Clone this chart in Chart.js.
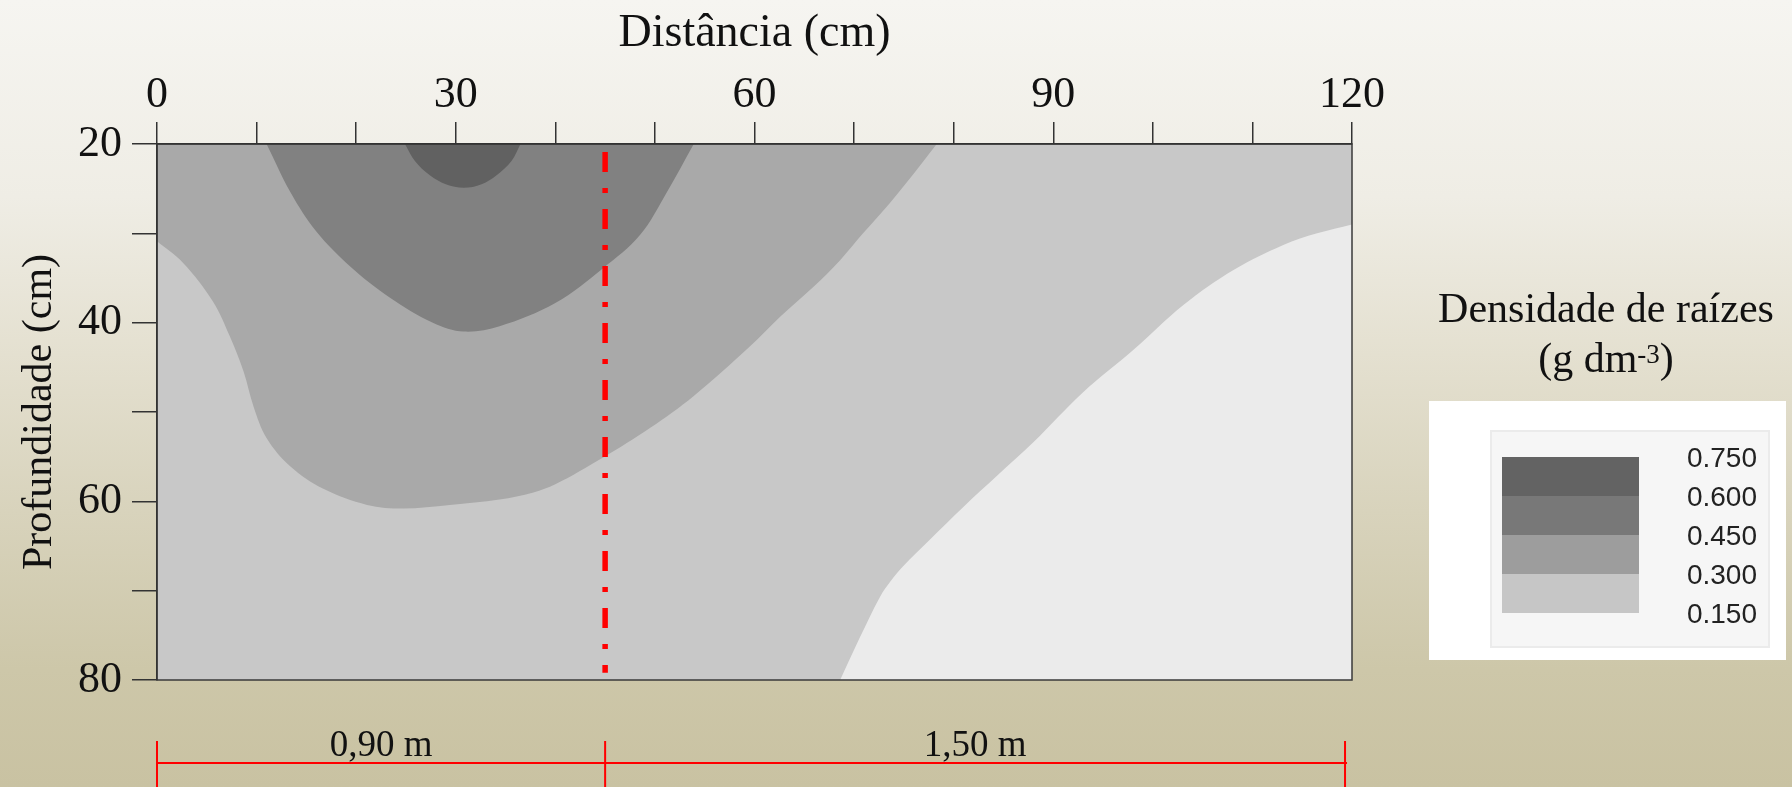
<!DOCTYPE html>
<html>
<head>
<meta charset="utf-8">
<script src="https://cdn.jsdelivr.net/npm/chart.js@4.4.1/dist/chart.umd.min.js"></script>
<style>
  html, body { margin: 0; padding: 0; }
  body {
    width: 1792px; height: 787px; overflow: hidden;
    background: linear-gradient(to bottom, #f6f5f1 0%, #efede5 25%, #e4e0d0 45%, #d8d3bc 65%, #cdc7a9 85%, #c9c2a2 100%);
  }
  #wrap { position: relative; width: 1792px; height: 787px; }
</style>
</head>
<body>
<div id="wrap"><canvas id="chart"></canvas></div>
<script>
// axis ranges and labelled ticks
const distanceRange = [0, 120];
const depthRange = [20, 80];
const distanceTicks = [0, 30, 60, 90, 120];
const depthTicks = [20, 40, 60, 80];

// contour levels of root density (g dm-3)
const levels = [0.150, 0.300, 0.450, 0.600, 0.750];

// contour boundaries (x = distance cm, y = depth cm)
const contour015X = [68.6, 70.6, 72.6, 73.7, 74.9, 77.6, 81.0, 84.3, 88.0, 93.0, 98.0, 103.1, 108.1, 113.1, 116.5, 120];
const contour015Y = [80, 75.2, 70.7, 68.9, 67.3, 64.3, 60.6, 57.2, 53.4, 47.8, 43.1, 38.0, 34.1, 31.3, 30.0, 29.0];

const contour030X = [0, 2.6, 5.6, 7.3, 8.7, 9.7, 11.0, 13.4, 16.7, 21.1, 24.7, 29.4, 34.4, 37.8, 40.0, 44.8, 49.5, 53.9, 59.5, 62.6, 65.9, 68.6, 70.9, 73.6, 76.0, 78.3];
const contour030Y = [30.9, 33.3, 37.6, 41.5, 45.5, 49.4, 52.9, 56.1, 58.6, 60.4, 60.8, 60.4, 59.8, 59.0, 58.1, 55.1, 51.8, 48.2, 42.7, 39.3, 36.0, 33.0, 30.0, 26.6, 23.3, 20];

const contour045X = [11.0, 13.4, 16.0, 19.4, 23.4, 27.7, 30.8, 34.4, 40.0, 44.8, 48.5, 51.2, 53.9];
const contour045Y = [20, 25.4, 29.8, 33.7, 37.2, 40.0, 41.0, 40.4, 37.8, 33.9, 30.2, 25.4, 20];

const contour060X = [24.9, 25.9, 27.4, 29.0, 30.8, 32.6, 34.1, 35.6, 36.5];
const contour060Y = [20, 21.9, 23.5, 24.5, 24.9, 24.5, 23.5, 21.9, 20];

// dividing line and bottom dimension spans
const divisionX = 45;
const divisionDepth = [20.9, 79.2];
const spanEdges = [0, 45, 119.3];
const spanLabels = ['0,90 m', '1,50 m'];

const legendTitle = 'Densidade de raízes';

const SERIF = "'Liberation Serif', 'Times New Roman', serif";
const SANS = "'Liberation Sans', Arial, sans-serif";
const shades = { lowest: '#ebebeb', base: '#c8c8c8', c030: '#a9a9a9', c045: '#818181', c060: '#616161' };
const legendShades = ['#636363', '#787878', '#9d9d9d', '#c6c6c6'];

function toPoints(xs, ys) {
  return xs.map((x, i) => ({ x: x, y: ys[i] }));
}
// a repeated vertex keeps the bezier corner sharp
function sharp(p) {
  return [p, { x: p.x, y: p.y }];
}

function regionDataset(points, color) {
  return {
    data: points,
    showLine: true,
    fill: 'shape',
    backgroundColor: color,
    borderColor: 'transparent',
    borderWidth: 0,
    pointRadius: 0,
    tension: 0.35
  };
}

const p015 = toPoints(contour015X, contour015Y);
const lowestRegion = [...p015.slice(0, -1), ...sharp(p015[p015.length - 1]), ...sharp({ x: distanceRange[1], y: depthRange[1] })];

const p030 = toPoints(contour030X, contour030Y);
const region030 = [{ x: distanceRange[0], y: depthRange[0] }, ...sharp(p030[0]), ...p030.slice(1)];

const region045 = toPoints(contour045X, contour045Y);
const region060 = toPoints(contour060X, contour060Y);

const plotFrame = {
  id: 'plotFrame',
  beforeDatasetsDraw(chart) {
    const { ctx, chartArea: a } = chart;
    ctx.save();
    ctx.fillStyle = shades.base;
    ctx.fillRect(a.left, a.top, a.right - a.left, a.bottom - a.top);
    ctx.restore();
  },
  afterDatasetsDraw(chart) {
    const { ctx, chartArea: a } = chart;
    ctx.save();
    ctx.strokeStyle = '#3a3a3a';
    ctx.lineWidth = 1.5;
    ctx.strokeRect(a.left, a.top, a.right - a.left, a.bottom - a.top);
    ctx.restore();
  }
};

const annotations = {
  id: 'annotations',
  afterDraw(chart) {
    const ctx = chart.ctx;
    const xs = chart.scales.x;
    ctx.save();

    // dimension line under the map
    const lineY = 763;
    ctx.strokeStyle = '#ff0000';
    ctx.lineWidth = 2;
    ctx.beginPath();
    ctx.moveTo(xs.getPixelForValue(spanEdges[0]), lineY);
    ctx.lineTo(xs.getPixelForValue(spanEdges[spanEdges.length - 1]) + 2, lineY);
    spanEdges.forEach(v => {
      const px = xs.getPixelForValue(v);
      ctx.moveTo(px, 741);
      ctx.lineTo(px, 787);
    });
    ctx.stroke();
    ctx.fillStyle = '#111';
    ctx.font = `37px ${SERIF}`;
    ctx.textAlign = 'center';
    ctx.textBaseline = 'alphabetic';
    spanLabels.forEach((t, i) => {
      const mid = (xs.getPixelForValue(spanEdges[i]) + xs.getPixelForValue(spanEdges[i + 1])) / 2;
      ctx.fillText(t, mid, 756);
    });

    // colour scale legend
    const cx = 1606;
    ctx.font = `42px ${SERIF}`;
    ctx.fillText(legendTitle, cx, 322);
    const a = '(g dm', s = '-3', b = ')';
    const wa = ctx.measureText(a).width, wb = ctx.measureText(b).width;
    ctx.font = `27px ${SERIF}`;
    const ws = ctx.measureText(s).width;
    let x = cx - (wa + ws + wb) / 2;
    ctx.textAlign = 'left';
    ctx.font = `42px ${SERIF}`;
    ctx.fillText(a, x, 372);
    x += wa;
    ctx.font = `27px ${SERIF}`;
    ctx.fillText(s, x, 363);
    x += ws;
    ctx.font = `42px ${SERIF}`;
    ctx.fillText(b, x, 372);

    ctx.fillStyle = '#ffffff';
    ctx.fillRect(1429, 401, 357, 259);
    ctx.fillStyle = '#f6f6f6';
    ctx.fillRect(1491, 431, 278, 216);
    ctx.strokeStyle = '#ebebeb';
    ctx.lineWidth = 2;
    ctx.strokeRect(1491, 431, 278, 216);

    const barTop = 457, bandH = 39;
    legendShades.forEach((c, i) => {
      ctx.fillStyle = c;
      ctx.fillRect(1502, barTop + i * bandH, 137, bandH);
    });
    ctx.fillStyle = '#222';
    ctx.font = `28px ${SANS}`;
    ctx.textAlign = 'right';
    ctx.textBaseline = 'middle';
    levels.slice().reverse().forEach((v, i) => {
      ctx.fillText(v.toFixed(3), 1757, barTop + 2 + i * bandH);
    });
    ctx.restore();
  }
};

new Chart(document.getElementById('chart'), {
  type: 'scatter',
  data: {
    datasets: [
      {
        data: divisionDepth.map(d => ({ x: divisionX, y: d })),
        showLine: true,
        fill: false,
        borderColor: '#ff0000',
        borderWidth: 5.5,
        borderDash: [20, 16, 5, 16],
        borderCapStyle: 'butt',
        pointRadius: 0,
        tension: 0
      },
      regionDataset(region060, shades.c060),
      regionDataset(region045, shades.c045),
      regionDataset(region030, shades.c030),
      regionDataset(lowestRegion, shades.lowest)
    ]
  },
  options: {
    responsive: true,
    maintainAspectRatio: false,
    animation: false,
    layout: { padding: { left: 0, top: 0, right: 440, bottom: 107 } },
    plugins: { legend: { display: false }, tooltip: { enabled: false } },
    scales: {
      x: {
        type: 'linear',
        position: 'top',
        min: distanceRange[0],
        max: distanceRange[1],
        afterFit: s => { s.height = 144; },
        ticks: {
          stepSize: 10, autoSkip: false, maxRotation: 0, padding: 0, color: '#111',
          font: { family: SERIF, size: 44 },
          callback: v => distanceTicks.includes(v) ? String(v) : ''
        },
        grid: { drawOnChartArea: false, drawTicks: true, tickLength: 22, color: '#333', lineWidth: 1.5 },
        border: { display: true, color: '#333', width: 1.5, z: 1 },
        title: { display: true, text: 'Distância (cm)', color: '#111', font: { family: SERIF, size: 46 }, padding: { top: 6, bottom: 0 } }
      },
      y: {
        type: 'linear',
        position: 'left',
        reverse: true,
        min: depthRange[0],
        max: depthRange[1],
        afterFit: s => { s.width = 157; },
        ticks: {
          stepSize: 10, autoSkip: false, padding: 10, color: '#111',
          font: { family: SERIF, size: 44 },
          callback: v => depthTicks.includes(v) ? String(v) : ''
        },
        grid: { drawOnChartArea: false, drawTicks: true, tickLength: 25, color: '#333', lineWidth: 1.5 },
        border: { display: true, color: '#333', width: 1.5, z: 1 },
        title: { display: true, text: 'Profundidade (cm)', color: '#111', font: { family: SERIF, size: 42 }, padding: { top: 15, bottom: 0 } }
      }
    }
  },
  plugins: [plotFrame, annotations]
});
</script>
</body>
</html>
